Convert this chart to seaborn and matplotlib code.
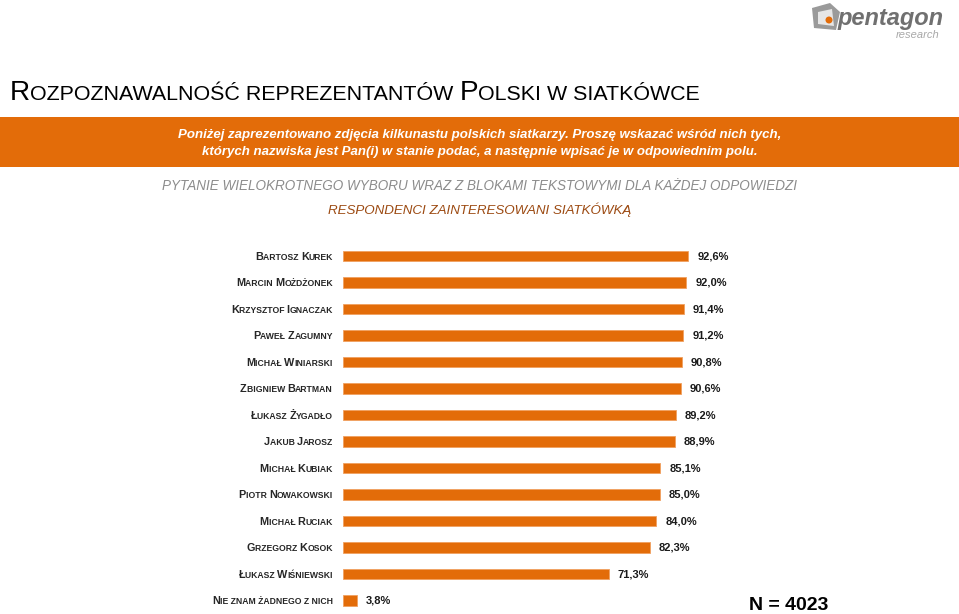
import numpy as np
import pandas as pd
import matplotlib
matplotlib.use("Agg")
import matplotlib.pyplot as plt
import seaborn as sns
from matplotlib.patches import Polygon, Circle, Rectangle
from matplotlib.transforms import IdentityTransform

# ---------------- data ----------------
names = ["Bartosz Kurek", "Marcin Możdżonek", "Krzysztof Ignaczak", "Paweł Zagumny",
         "Michał Winiarski", "Zbigniew Bartman", "Łukasz Żygadło", "Jakub Jarosz",
         "Michał Kubiak", "Piotr Nowakowski", "Michał Ruciak", "Grzegorz Kosok",
         "Łukasz Wiśniewski", "Nie znam żadnego z nich"]
values = [92.6, 92.0, 91.4, 91.2, 90.8, 90.6, 89.2, 88.9, 85.1, 85.0, 84.0, 82.3, 71.3, 3.8]
value_labels = [f"{v:.1f}".replace(".", ",") + "%" for v in values]

title = "Rozpoznawalność reprezentantów Polski w siatkówce"
banner_lines = ["Poniżej zaprezentowano zdjęcia kilkunastu polskich siatkarzy. Proszę wskazać wśród nich tych,",
                "których nazwiska jest Pan(i) w stanie podać, a następnie wpisać je w odpowiednim polu."]
subtitle1 = "PYTANIE WIELOKROTNEGO WYBORU WRAZ Z BLOKAMI TEKSTOWYMI DLA KAŻDEJ ODPOWIEDZI"
subtitle2 = "RESPONDENCI ZAINTERESOWANI SIATKÓWKĄ"
n_label = "N = 4023"

ORANGE = "#E36C09"

sns.set_style("white")
plt.rcParams["font.family"] = ["Liberation Sans", "DejaVu Sans"]

W, H = 959, 614
fig = plt.figure(figsize=(W / 100, H / 100), dpi=100)
fig.patch.set_facecolor("white")
renderer = fig.canvas.get_renderer()
IDT = IdentityTransform()


def text_width(s, **kw):
    t1 = fig.text(0, 0, s + "|", transform=IDT, **kw)
    t2 = fig.text(0, 0, "|", transform=IDT, **kw)
    w = t1.get_window_extent(renderer).width - t2.get_window_extent(renderer).width
    t1.remove(); t2.remove()
    return w


def smallcaps(x, y, s, big, small, ha="left", **kw):
    segs = []
    for ch in s:
        size = big if ch.isupper() else small
        c = ch.upper()
        if segs and segs[-1][1] == size:
            segs[-1][0] += c
        else:
            segs.append([c, size])
    widths = [text_width(t, fontsize=sz, **kw) for t, sz in segs]
    total = sum(widths)
    if ha == "right":
        x0 = x - total
    elif ha == "center":
        x0 = x - total / 2
    else:
        x0 = x
    for (t, sz), w in zip(segs, widths):
        fig.text(x0, y, t, fontsize=sz, transform=IDT, va="baseline", ha="left", **kw)
        x0 += w


# ---------------- bar chart ----------------
row_h = 26.5
top_px = 256 - row_h / 2
bot_px = top_px + row_h * len(names)
ax = fig.add_axes([343 / W, 1 - bot_px / H, 373 / W, (bot_px - top_px) / H])
df = pd.DataFrame({"name": names, "value": values})
sns.barplot(data=df, x="value", y="name", color=ORANGE, saturation=1, width=0.38,
            edgecolor="#F0A060", linewidth=0.6, ax=ax)
ax.set_xlim(0, 100)
ax.set_ylim(len(names) - 0.5, -0.5)
ax.set_axis_off()

for i, (v, lab) in enumerate(zip(values, value_labels)):
    ax.annotate(lab, (v, i), xytext=(6.5, 0), textcoords="offset points",
                va="center", ha="left", fontsize=8, fontweight="bold", color="#1a1a1a")

fig.canvas.draw()
for i, nm in enumerate(names):
    _, yd = ax.transData.transform((0, i))
    smallcaps(333, yd - 3.7, nm, 7.8, 6.25, ha="right", fontweight="bold", color="#262626")

# ---------------- header ----------------
smallcaps(10, H - 100, title, 20.2, 15.4, ha="left", color="black")

fig.patches.append(Rectangle((0, H - 167), W, 50, transform=IDT, facecolor=ORANGE,
                             edgecolor="none", zorder=0))
fig.text(480, H - 135, banner_lines[0], transform=IDT, ha="center", va="center",
         fontsize=9.5, fontweight="bold", fontstyle="italic", color="white")
fig.text(480, H - 152, banner_lines[1], transform=IDT, ha="center", va="center",
         fontsize=9.5, fontweight="bold", fontstyle="italic", color="white")

fig.text(480, H - 186, subtitle1, transform=IDT, ha="center", va="center",
         fontsize=9.75, fontstyle="italic", color="#8C8C8C")
fig.text(480, H - 210, subtitle2, transform=IDT, ha="center", va="center",
         fontsize=9.6, fontstyle="italic", color="#9C4A12")

fig.text(789, 9, n_label, transform=IDT, ha="center", va="center",
         fontsize=14, fontweight="bold", color="black")

# ---------------- logo ----------------
pent = [(812, H - 8), (830, H - 3), (840, H - 12), (836, H - 30), (814, H - 28)]
fig.patches.append(Polygon(pent, closed=True, transform=IDT, facecolor="#9a9a9a",
                           edgecolor="none"))
fig.patches.append(Polygon([(818, H - 12), (832, H - 9), (834, H - 26), (818, H - 24)],
                           closed=True, transform=IDT, facecolor="#e6e6e6", edgecolor="none"))
fig.patches.append(Circle((829, H - 20), 3.5, transform=IDT, facecolor=ORANGE,
                          edgecolor="none"))
fig.text(838, H - 18, "pentagon", transform=IDT, ha="left", va="center",
         fontsize=17, fontweight="bold", fontstyle="italic", color="#707070")
fig.text(940, H - 35, "research", transform=IDT, ha="right", va="center",
         fontsize=8, fontstyle="italic", color="#a8a8a8")

fig.savefig("out.png", dpi=100, facecolor="white")
